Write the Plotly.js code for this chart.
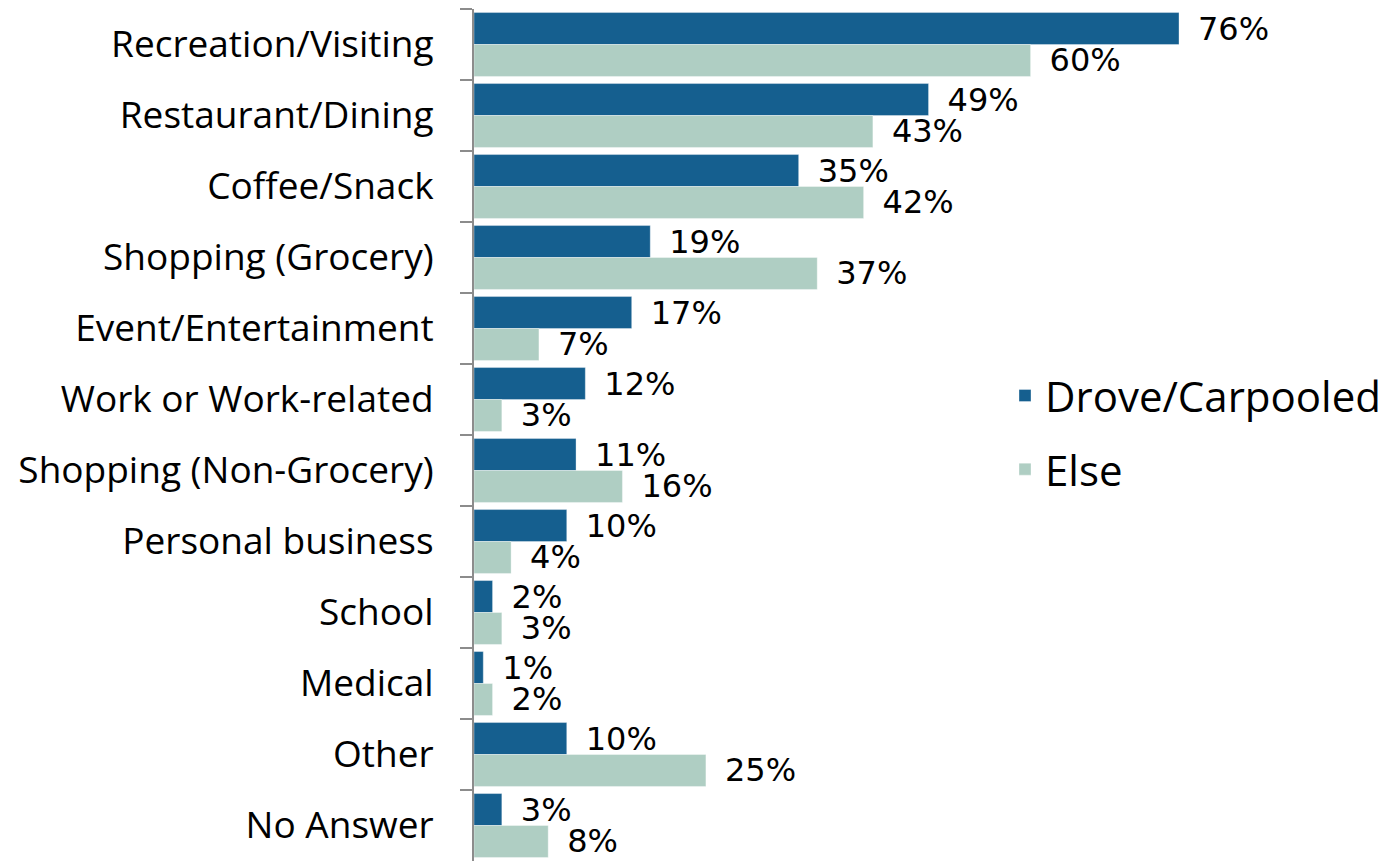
<!DOCTYPE html>
<html>
<head>
<meta charset="utf-8">
<script src="https://cdn.plot.ly/plotly-3.0.1.min.js"></script>
<style>html,body{margin:0;padding:0;background:#fff;}#chart{width:1397px;height:861px;}</style>
</head>
<body>
<div id="chart"></div>
<script>
const categories = ["Recreation/Visiting","Restaurant/Dining","Coffee/Snack","Shopping (Grocery)","Event/Entertainment","Work or Work-related","Shopping (Non-Grocery)","Personal business","School","Medical","Other","No Answer"];
const seriesNames = ["Drove/Carpooled","Else"];
const droveValues = [76,49,35,19,17,12,11,10,2,1,10,3];
const elseValues = [60,43,42,37,7,3,16,4,3,2,25,8];

const labelFont = {family: "DejaVu Sans", size: 32, color: "#000"};
function makeTrace(name, vals, color, group) {
  return {
    type: "bar", orientation: "h", name: name,
    y: categories, x: vals,
    marker: {color: color, line: {color: "rgba(255,255,255,0.35)", width: 1}},
    text: vals.map(v => v + "%"),
    texttemplate: "\u2002%{text}",
    textposition: "outside", cliponaxis: false, constraintext: "none",
    textfont: labelFont, hoverinfo: "x+y", legendgroup: group
  };
}
const data = [
  makeTrace(seriesNames[0], droveValues, "#155F8F", "a"),
  makeTrace(seriesNames[1], elseValues, "#AFCEC3", "b")
];
const layout = {
  width: 1397, height: 861,
  margin: {l: 474, r: 0, t: 9, b: 0, pad: 0},
  paper_bgcolor: "#fff", plot_bgcolor: "#fff",
  barmode: "group", bargap: 0.1, bargroupgap: 0,
  showlegend: true,
  legend: {x: 0.5753, y: 0.586, xanchor: "left", yanchor: "top", font: {family: "Open Sans", size: 42, color: "#000"}, traceorder: "grouped", tracegroupgap: 16, bgcolor: "rgba(0,0,0,0)"},
  xaxis: {range: [0, 99.5], showgrid: false, zeroline: false, showline: false, showticklabels: false, ticks: "", fixedrange: true},
  yaxis: {type: "category", autorange: "reversed", showgrid: false, zeroline: false,
    showline: true, linecolor: "#8C8C8C", linewidth: 2,
    ticks: "outside", tickson: "boundaries", ticklen: 12, tickcolor: "#8C8C8C", tickwidth: 2,
    ticklabelstandoff: 31,
    tickfont: {family: "Open Sans", size: 37, color: "#000"}, automargin: false}
};
Plotly.newPlot("chart", data, layout, {displayModeBar: false, staticPlot: true});
</script>
</body>
</html>
